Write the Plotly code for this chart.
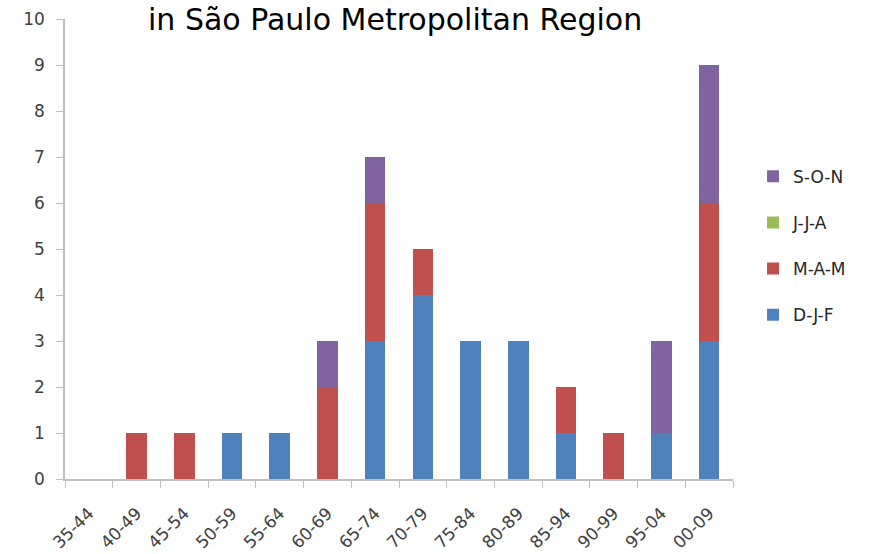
import plotly.graph_objects as go

# Decade windows and seasonal event counts
periods = ["35-44", "40-49", "45-54", "50-59", "55-64", "60-69", "65-74",
           "70-79", "75-84", "80-89", "85-94", "90-99", "95-04", "00-09"]
djf = [0, 0, 0, 1, 1, 0, 3, 4, 3, 3, 1, 0, 1, 3]
mam = [0, 1, 1, 0, 0, 2, 3, 1, 0, 0, 1, 1, 0, 3]
jja = [0, 0, 0, 0, 0, 0, 0, 0, 0, 0, 0, 0, 0, 0]
son = [0, 0, 0, 0, 0, 1, 1, 0, 0, 0, 0, 0, 2, 3]

# stacked bottom-to-top; legend lists them top-to-bottom
series = [
    ("D-J-F", djf, "#4F81BD", 4),
    ("M-A-M", mam, "#C0504D", 3),
    ("J-J-A", jja, "#9BBB59", 2),
    ("S-O-N", son, "#8064A2", 1),
]

fig = go.Figure()
for name, vals, color, rank in series:
    fig.add_trace(go.Bar(
        x=periods, y=vals, name=name, legendgroup=name, legendrank=rank,
        marker=dict(color=color, line=dict(width=0)),
    ))

axis_color = "#BFBFBF"
tick_font = dict(family="DejaVu Sans, Verdana, sans-serif", size=17, color="#404040")

fig.update_layout(
    barmode="stack",
    bargap=0.57,
    width=881, height=554,
    margin=dict(l=65, r=148, t=19, b=75),
    paper_bgcolor="white",
    plot_bgcolor="white",
    showlegend=True,
    legend=dict(
        x=1.03, y=0.507, xanchor="left", yanchor="middle",
        traceorder="grouped",
        tracegroupgap=21,
        font=dict(family="DejaVu Sans, Verdana, sans-serif", size=17, color="#262626"),
        itemwidth=30,
    ),
    xaxis=dict(
        type="category",
        automargin=False,
        showline=True, linecolor=axis_color, linewidth=1.5,
        ticks="outside", ticklen=7, tickcolor=axis_color,
        tickson="boundaries",
        tickangle=-45, tickfont=tick_font,
        ticklabelstandoff=16,
        showgrid=False,
    ),
    yaxis=dict(
        range=[0, 10], dtick=1,
        automargin=False,
        showline=True, linecolor=axis_color, linewidth=1.5,
        ticks="outside", ticklen=7, tickcolor=axis_color,
        tickfont=tick_font, ticklabelstandoff=8,
        showgrid=False, zeroline=False,
    ),
    annotations=[dict(
        text="in São Paulo Metropolitan Region",
        xref="paper", yref="paper", x=0.494, y=1.0,
        xanchor="center", yanchor="bottom",
        yshift=-20,
        showarrow=False,
        font=dict(family="DejaVu Sans, Verdana, sans-serif", size=30, color="#000000"),
    )],
)

fig.write_html("out.html")
